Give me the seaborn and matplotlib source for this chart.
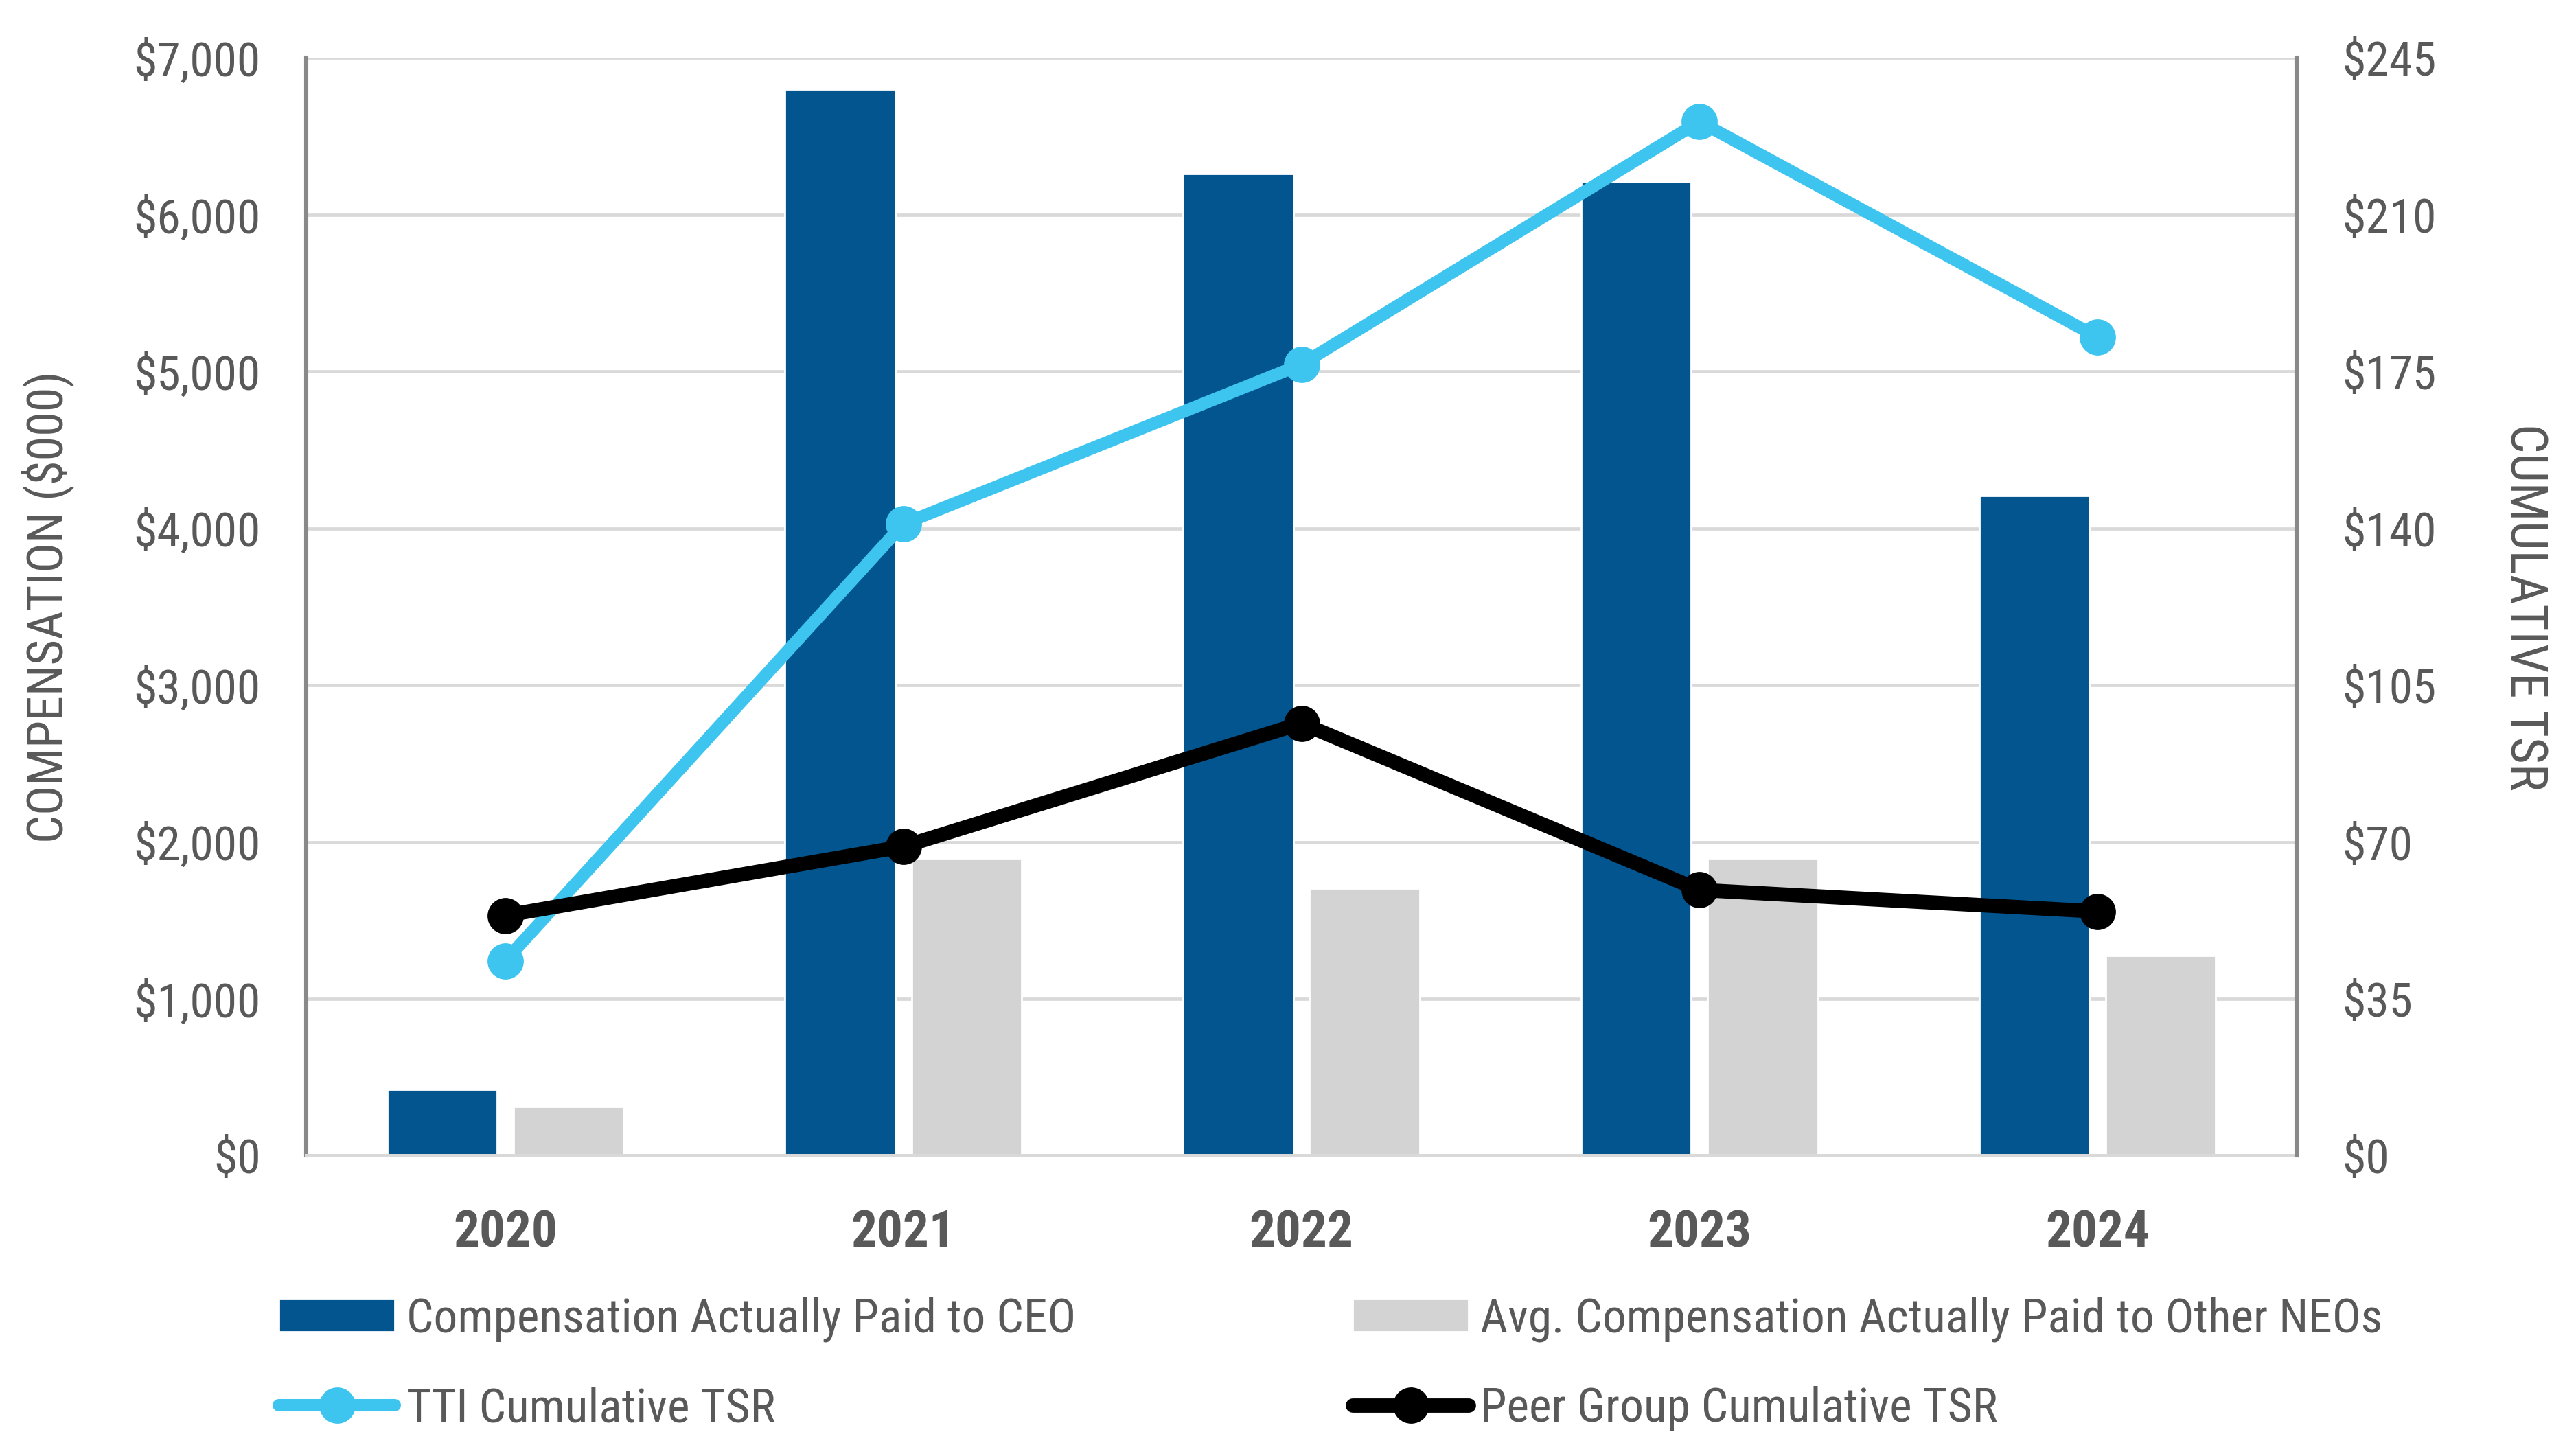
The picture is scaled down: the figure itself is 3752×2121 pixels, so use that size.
import numpy as np
import pandas as pd
import matplotlib
matplotlib.use("Agg")
import matplotlib.pyplot as plt
from matplotlib import font_manager as fm
from matplotlib.patches import Patch
from matplotlib.lines import Line2D
from matplotlib.ticker import FuncFormatter, MultipleLocator
import seaborn as sns

# data
years = ["2020", "2021", "2022", "2023", "2024"]
ceo_cap = [420, 6800, 6260, 6210, 4210]          # $000
neo_cap = [314, 1895, 1707, 1895, 1277]          # $000
tti_tsr = [43.5, 141, 176.6, 230.8, 182.7]
peer_tsr = [53.6, 69.0, 96.5, 59.3, 54.5]

series_names = ["Compensation Actually Paid to CEO",
                "Avg. Compensation Actually Paid to Other NEOs"]
line_names = ["TTI Cumulative TSR", "Peer Group Cumulative TSR"]

c_ceo = "#02558F"
c_neo = "#D3D3D3"
c_tti = "#3DC5F0"
c_peer = "#000000"
txt = "#595959"

sns.set_theme(style="white")

# the original uses a narrow font; use one if there is one, else shrink DejaVu
names = {f.name for f in fm.fontManager.ttflist}
narrow = None
for cand in ["Liberation Sans Narrow", "Arial Narrow", "Roboto Condensed",
             "Open Sans Condensed", "DejaVu Sans Condensed"]:
    if cand in names:
        narrow = cand
        break
stretch = "normal"
if narrow is None and any(f.name == "DejaVu Sans" and f.stretch == "condensed"
                          for f in fm.fontManager.ttflist):
    narrow = "DejaVu Sans"
    stretch = "condensed"
if narrow is None:
    plt.rcParams["font.family"] = ["DejaVu Sans"]
    k = 0.82
else:
    plt.rcParams["font.family"] = [narrow, "DejaVu Sans"]
    plt.rcParams["font.stretch"] = stretch
    k = 1.0

fs_tick = 25 * k
fs_year = 27 * k
fs_lab = 26 * k
fs_leg = 25 * k

df = pd.DataFrame({
    "year": years * 2,
    "value": ceo_cap + neo_cap,
    "series": [series_names[0]] * len(years) + [series_names[1]] * len(years),
})

fig = plt.figure(figsize=(18.76, 10.605), dpi=200)
ax = fig.add_axes([0.1189, 0.2063, 0.8915 - 0.1189, 0.9602 - 0.2063])

sns.barplot(data=df, x="year", y="value", hue="series", order=years,
            hue_order=series_names, palette=[c_ceo, c_neo],
            width=0.636, gap=0.13, saturation=1, legend=False, ax=ax, zorder=2)

ax.set_ylim(0, 7000)
ax.set_xlim(-0.5, len(years) - 0.5)
ax.yaxis.set_major_locator(MultipleLocator(1000))
ax.yaxis.set_major_formatter(FuncFormatter(lambda v, p: f"${v:,.0f}"))
ax.grid(axis="y", color="#D9D9D9", linewidth=1.7, zorder=0)
ax.set_axisbelow(True)
ax.set_xlabel("")
ax.set_ylabel("COMPENSATION ($000)", fontsize=fs_lab, color=txt, labelpad=31)
ax.tick_params(axis="y", length=0, pad=24, labelsize=fs_tick, labelcolor=txt)
ax.tick_params(axis="x", length=0, pad=28, labelsize=fs_year, labelcolor=txt)
for lab in ax.get_xticklabels():
    lab.set_fontweight("bold")
for s in ["top", "right"]:
    ax.spines[s].set_visible(False)
ax.spines["left"].set_color("#898989")
ax.spines["left"].set_linewidth(2.2)
ax.spines["bottom"].set_color("#D9D9D9")
ax.spines["bottom"].set_linewidth(1.8)

ax2 = ax.twinx()
x_pos = np.arange(len(years))
sns.lineplot(x=x_pos, y=tti_tsr, color=c_tti, linewidth=6.5, marker="o",
             markersize=19, markeredgewidth=0, ax=ax2, zorder=3)
sns.lineplot(x=x_pos, y=peer_tsr, color=c_peer, linewidth=7.5, marker="o",
             markersize=19, markeredgewidth=0, ax=ax2, zorder=4)
ax2.set_ylim(0, 245)
ax2.set_xlim(-0.5, len(years) - 0.5)
ax2.yaxis.set_major_locator(MultipleLocator(35))
ax2.yaxis.set_major_formatter(FuncFormatter(lambda v, p: f"${v:,.0f}"))
ax2.tick_params(axis="y", length=0, pad=24, labelsize=fs_tick, labelcolor=txt)
ax2.set_ylabel("CUMULATIVE TSR", fontsize=fs_lab + 1, color=txt, rotation=270,
               labelpad=59)
for s in ["top", "left", "bottom"]:
    ax2.spines[s].set_visible(False)
ax2.spines["right"].set_color("#898989")
ax2.spines["right"].set_linewidth(2.2)
ax2.grid(False)

# legend: one small legend per entry so each sits where the original has it
handles = [
    Patch(facecolor=c_ceo, label=series_names[0]),
    Patch(facecolor=c_neo, label=series_names[1]),
    Line2D([], [], color=c_tti, linewidth=6.5, marker="o", markersize=19,
           markeredgewidth=0, label=line_names[0]),
    Line2D([], [], color=c_peer, linewidth=7.5, marker="o", markersize=19,
           markeredgewidth=0, label=line_names[1]),
]
spots = [(0.1082, 0.094), (0.525, 0.094), (0.1082, 0.0325), (0.525, 0.0325)]
for h, (lx, ly) in zip(handles, spots):
    fig.legend(handles=[h], loc="center left", bbox_to_anchor=(lx, ly),
               frameon=False, fontsize=fs_leg, labelcolor=txt,
               borderpad=0, borderaxespad=0,
               handlelength=61 / fs_leg, handleheight=17 / fs_leg,
               handletextpad=6 / fs_leg)

fig.savefig("out.png", dpi=200)
